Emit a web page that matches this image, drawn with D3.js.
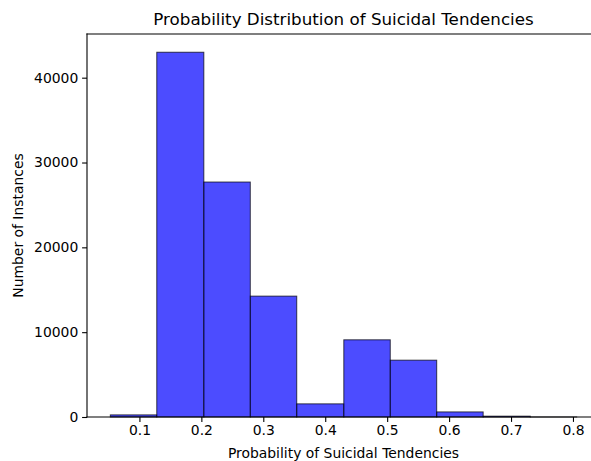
<!DOCTYPE html>
<html>
<head>
<meta charset="utf-8">
<script src="https://cdn.jsdelivr.net/npm/d3@7"></script>
<style>
  body { margin: 0; background: #fff; overflow: hidden; }
  svg { display: block; overflow: hidden; font-family: "DejaVu Sans", sans-serif; }
</style>
</head>
<body>
<div id="chart"></div>
<script>
// histogram bins (edges) and counts per bin
var binEdges = [0.053, 0.128, 0.204, 0.279, 0.354, 0.430, 0.505, 0.580, 0.655, 0.731, 0.806];
var binCounts = [250, 43000, 27700, 14250, 1550, 9100, 6700, 600, 100, 5];
var xTicks = [0.1, 0.2, 0.3, 0.4, 0.5, 0.6, 0.7, 0.8];
var yTicks = [0, 10000, 20000, 30000, 40000];

var titleText = "Probability Distribution of Suicidal Tendencies";
var xLabelText = "Probability of Suicidal Tendencies";
var yLabelText = "Number of Instances";

(function(){
    var W = 591, H = 461;
    // the axes run past the right edge of the picture (it was cropped)
    var left = 87, right = 600, top = 34, bottom = 417;

    var bins = binCounts.map(function(c, i){
	return {x0: binEdges[i], x1: binEdges[i + 1], count: c};
    });

    // matplotlib style 5% margins on x, 5% headroom on y
    var lo = binEdges[0], hi = binEdges[binEdges.length - 1];
    var pad = (hi - lo) * 0.05;
    var x = d3.scaleLinear().domain([lo - pad, hi + pad]).range([left, right]);
    var y = d3.scaleLinear().domain([0, d3.max(binCounts) * 1.05]).range([bottom, top]);

    var svg = d3.select("#chart").append("svg")
	.attr("width", W)
	.attr("height", H);

    svg.append("rect")
	.attr("width", W).attr("height", H)
	.attr("fill", "#fff");

    // bars
    svg.append("g").selectAll("rect")
	.data(bins)
	.enter().append("rect")
	.attr("x", function(d){ return x(d.x0); })
	.attr("y", function(d){ return y(d.count); })
	.attr("width", function(d){ return x(d.x1) - x(d.x0); })
	.attr("height", function(d){ return y(0) - y(d.count); })
	.attr("fill", "blue")
	.attr("fill-opacity", 0.7)
	.attr("stroke", "#000")
	.attr("stroke-opacity", 0.7)
	.attr("stroke-width", 1);

    // axes
    var xAxis = d3.axisBottom(x)
	.tickValues(xTicks)
	.tickSize(4.9)
	.tickPadding(3.2)
	.tickFormat(d3.format(".1f"));
    var yAxis = d3.axisLeft(y)
	.tickValues(yTicks)
	.tickSize(4.9)
	.tickPadding(3.8)
	.tickFormat(d3.format("d"));

    var gx = svg.append("g")
	.attr("transform", "translate(0," + bottom + ")")
	.call(xAxis);
    var gy = svg.append("g")
	.attr("transform", "translate(" + left + ",0)")
	.call(yAxis);

    [gx, gy].forEach(function(g){
	g.select(".domain").remove();
	g.selectAll(".tick line").attr("stroke", "#000").attr("stroke-width", 1.1);
	g.selectAll(".tick text")
	    .attr("fill", "#000")
	    .style("font-size", "13.9px")
	    .style("font-family", "'DejaVu Sans', sans-serif");
    });

    // spines: left, top, bottom (right one is off the picture)
    var spines = [
	[left, top, left, bottom],
	[left, top, right, top],
	[left, bottom, right, bottom]
    ];
    svg.append("g").selectAll("line")
	.data(spines)
	.enter().append("line")
	.attr("x1", function(d){ return d[0]; })
	.attr("y1", function(d){ return d[1]; })
	.attr("x2", function(d){ return d[2]; })
	.attr("y2", function(d){ return d[3]; })
	.attr("stroke", "#000")
	.attr("stroke-width", 1.1)
	.attr("stroke-linecap", "square");

    // labels
    svg.append("text")
	.attr("x", (left + right) / 2).attr("y", 25)
	.attr("text-anchor", "middle")
	.style("font-size", "16.7px")
	.text(titleText);

    svg.append("text")
	.attr("x", (left + right) / 2).attr("y", 457.5)
	.attr("text-anchor", "middle")
	.style("font-size", "13.9px")
	.text(xLabelText);

    svg.append("text")
	.attr("transform", "translate(22.5," + ((top + bottom) / 2) + ") rotate(-90)")
	.attr("text-anchor", "middle")
	.style("font-size", "13.9px")
	.text(yLabelText);
})();
</script>
</body>
</html>
